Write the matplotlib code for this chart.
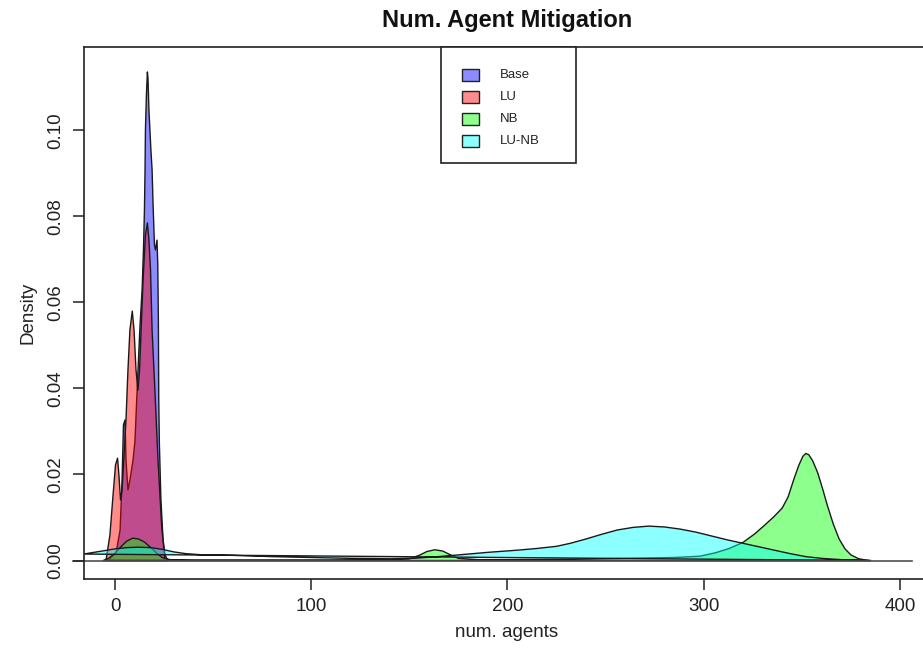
import matplotlib
matplotlib.use("Agg")
import matplotlib.pyplot as plt
from matplotlib.patches import Rectangle

plt.rcParams['font.family'] = ['Liberation Sans', 'DejaVu Sans']

# ---------------- data ----------------
series_names = ["Base", "LU", "NB", "LU-NB"]
series_colors = [(0, 0, 1), (1, 0, 0), (0, 1, 0), (0, 1, 1)]

base_x = [-3.6, 0.5, 2.6, 3.6, 4.3, 5.1, 5.6, 6.6, 7.6, 9.2, 10.2, 11.2, 12.7, 13.8, 14.5,
          15.0, 15.3, 15.5, 16.0, 16.5, 16.8, 17.3, 17.8, 18.3, 18.9, 19.4, 20.1, 20.6,
          21.4, 21.8, 22.1, 22.3, 22.6, 23.4, 24.5, 25.5, 27.0]
base_y = [0.0, 0.0017, 0.0071, 0.0187, 0.0315, 0.0327, 0.0234, 0.0164, 0.0187, 0.0234,
          0.0280, 0.0389, 0.0543, 0.0629, 0.0722, 0.0815, 0.0908, 0.1001, 0.1082, 0.1136,
          0.1122, 0.1047, 0.1001, 0.0954, 0.0908, 0.0827, 0.0734, 0.0722, 0.0745, 0.0687,
          0.0559, 0.0373, 0.0273, 0.0141, 0.0048, 0.0013, 0.0]

lu_x = [-4.6, -2.6, -1.0, 0.25, 1.3, 2.0, 2.8, 3.6, 4.6, 5.6, 6.6, 7.6, 8.8, 9.7, 10.7,
        11.7, 12.5, 13.3, 14.3, 15.5, 16.5, 17.3, 18.1, 18.9, 20.4, 21.9, 23.8, 25.5]
lu_y = [0.0, 0.0059, 0.0152, 0.0222, 0.0238, 0.0199, 0.0141, 0.0164, 0.0245, 0.0327,
        0.0443, 0.0536, 0.0580, 0.0536, 0.0443, 0.0396, 0.0443, 0.0536, 0.0652, 0.0757,
        0.0785, 0.0745, 0.0675, 0.0536, 0.0389, 0.0234, 0.0078, 0.0]

nb_x = [-6, -3, 0, 3, 6, 9, 12, 15, 18, 21, 24, 28, 40, 60, 80, 110, 140, 150, 155, 159,
        163, 167, 171, 175, 185, 200, 230, 260, 285, 298, 306, 313, 320, 326, 331, 336,
        340, 343, 346, 348.5, 350.5, 352, 353.5, 355.5, 358, 360.5, 363, 366, 369, 372,
        375, 379, 384]
nb_y = [0.0, 0.0006, 0.0017, 0.0032, 0.0045, 0.0052, 0.0050, 0.0043, 0.0031, 0.0018,
        0.0007, 0.0002, 0.0001, 0.0001, 0.0001, 0.0001, 0.0002, 0.0004, 0.0012, 0.0021,
        0.0025, 0.0022, 0.0013, 0.0005, 0.0002, 0.0002, 0.0003, 0.0005, 0.0007, 0.0010,
        0.0018, 0.0028, 0.0042, 0.0062, 0.0082, 0.0103, 0.0122, 0.0148, 0.0190, 0.0222,
        0.0242, 0.0249, 0.0246, 0.0232, 0.0205, 0.0168, 0.0128, 0.0085, 0.0050, 0.0027,
        0.0013, 0.0004, 0.0]

lunb_x = [-16, -8, 0, 6, 12, 18, 24, 30, 36, 45, 60, 80, 100, 120, 140, 152, 162, 175, 190,
          205, 215, 225, 232, 240, 248, 256, 264, 272, 280, 288, 296, 304, 312, 320, 328,
          336, 344, 352, 360, 370, 385]
lunb_y = [0.0015, 0.0021, 0.0027, 0.0030, 0.0031, 0.0030, 0.0026, 0.0020, 0.0016, 0.0013,
          0.0012, 0.0009, 0.0007, 0.0005, 0.0004, 0.0005, 0.0008, 0.0013, 0.0019, 0.0024,
          0.0028, 0.0033, 0.0040, 0.0050, 0.0061, 0.0071, 0.0077, 0.0080, 0.0078, 0.0073,
          0.0066, 0.0057, 0.0048, 0.0040, 0.0032, 0.0024, 0.0016, 0.0009, 0.0005, 0.0002,
          0.0]

x_ticks = [0, 100, 200, 300, 400]
y_ticks = [0.00, 0.02, 0.04, 0.06, 0.08, 0.10]
y_tick_labels = ["0.00", "0.02", "0.04", "0.06", "0.08", "0.10"]

title = "Num. Agent Mitigation"
x_label = "num. agents"
y_label = "Density"

# ---------------- figure ----------------
W, H = 923, 653
fig = plt.figure(figsize=(W / 100, H / 100), dpi=100)
ax = fig.add_axes([84 / W, 1 - 579 / H, (930 - 84) / W, (579 - 47) / H])
ax.set_xlim(-15.8, 415.3)
ax.set_ylim(-0.0043, 0.1194)

alpha = 0.45
all_series = [(base_x, base_y), (lu_x, lu_y), (nb_x, nb_y), (lunb_x, lunb_y)]
for (xs, ys), col in zip(all_series, series_colors):
    ax.fill(xs, ys, facecolor=(*col, alpha), edgecolor="#1a1a1a", linewidth=1.0,
            joinstyle="round")

# baseline line that runs slightly outside the plot box
ax.plot([-21.5, 406], [0, 0], color="#505050", linewidth=1.2, clip_on=False, zorder=1)

for side in ["left", "top", "bottom"]:
    ax.spines[side].set_color("#222222")
    ax.spines[side].set_linewidth(1.2)
ax.spines["right"].set_visible(False)

ax.set_xticks(x_ticks)
ax.set_xticklabels([str(v) for v in x_ticks])
ax.set_yticks(y_ticks)
ax.set_yticklabels(y_tick_labels, rotation=90, va="center")
ax.tick_params(axis="both", direction="out", length=8, width=1.1, color="#222222",
               labelsize=13.5, labelcolor="#222222")
ax.tick_params(axis="x", pad=6)
ax.tick_params(axis="y", pad=6)

ax.set_xlabel(x_label, fontsize=13.5, color="#222222", labelpad=6)
ax.set_ylabel(y_label, fontsize=13.5, color="#222222", labelpad=8)

fig.text(507 / W, 1 - 20 / H, title, ha="center", va="center", fontsize=17,
         fontweight="bold", color="#111111")

# ---------------- legend (R-style box) ----------------
leg_left, leg_right, leg_top, leg_bottom = 441, 576, 47, 163
fig.patches.append(Rectangle((leg_left / W, 1 - leg_bottom / H),
                             (leg_right - leg_left) / W, (leg_bottom - leg_top) / H,
                             transform=fig.transFigure, facecolor="white",
                             edgecolor="#222222", linewidth=1.2, zorder=5))
row_centers = [75, 97, 119, 141]
for name, col, yc in zip(series_names, series_colors, row_centers):
    fig.patches.append(Rectangle((462 / W, 1 - (yc + 6) / H), 17 / W, 12 / H,
                                 transform=fig.transFigure, facecolor=(*col, alpha),
                                 edgecolor="#222222", linewidth=1.0, zorder=6))
    fig.text(500 / W, 1 - yc / H, name, ha="left", va="center", fontsize=9.5,
             color="#222222", zorder=7)

fig.savefig("out.png", dpi=100)
